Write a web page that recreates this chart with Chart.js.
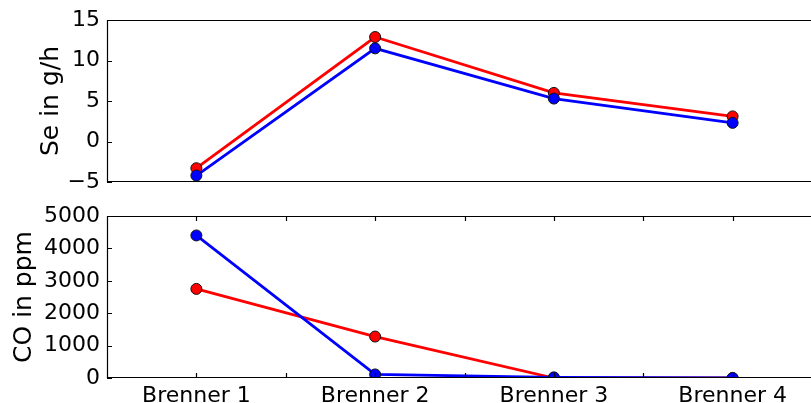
<!DOCTYPE html>
<html>
<head>
<meta charset="utf-8">
<script src="https://cdn.jsdelivr.net/npm/chart.js@4.4.1/dist/chart.umd.min.js"></script>
<style>
  html, body { margin: 0; padding: 0; background: #fff; overflow: hidden; }
  #top { position: absolute; left: 0; top: 0; }
  #bottom { position: absolute; left: 0; top: 200px; }
</style>
</head>
<body>
<canvas id="top" width="822" height="200"></canvas>
<canvas id="bottom" width="822" height="203"></canvas>
<script>
// data
var burners = ['Brenner 1', 'Brenner 2', 'Brenner 3', 'Brenner 4'];
var burnerPos = [1, 2, 3, 4];
var seBlue = [-4.2, 11.5, 5.3, 2.3];
var seRed = [-3.3, 12.9, 6.0, 3.1];
var coBlue = [4400, 110, 20, 0];
var coRed = [2750, 1280, 0, 0];

var tickFont = { family: 'DejaVu Sans', size: 22 };
var titleFont = { family: 'DejaVu Sans', size: 25 };

function pts(vals) {
    return vals.map(function (v, i) { return { x: burnerPos[i], y: v }; });
}

function series(vals, color) {
    return {
        data: pts(vals),
        borderColor: color,
        backgroundColor: color,
        borderWidth: 2.8,
        pointRadius: 5.5,
        pointHoverRadius: 5.5,
        pointBorderColor: '#111',
        pointBorderWidth: 1,
        tension: 0,
        clip: 0
    };
}

// matplotlib style frame with inward ticks
var frame = {
    id: 'frame',
    afterDraw: function (chart, args, opts) {
        var c = chart.ctx, a = chart.chartArea;
        c.save();
        c.strokeStyle = '#000';
        c.lineWidth = 1.2;
        c.beginPath();
        c.moveTo(a.right, a.top + 0.5); c.lineTo(a.left + 0.5, a.top + 0.5);
        c.lineTo(a.left + 0.5, a.bottom - 0.5); c.lineTo(a.right, a.bottom - 0.5);
        var ys = chart.scales.y;
        ys.ticks.forEach(function (t) {
            var p = Math.round(ys.getPixelForValue(t.value)) + 0.5;
            c.moveTo(a.left, p); c.lineTo(a.left + 5, p);
        });
        if (opts.xticks) {
            var xs = chart.scales.x;
            xs.ticks.forEach(function (t) {
                var p = Math.round(xs.getPixelForValue(t.value)) + 0.5;
                if (p < a.left + 2 || p > a.right - 2) return;
                c.moveTo(p, a.top); c.lineTo(p, a.top + 5);
                c.moveTo(p, a.bottom); c.lineTo(p, a.bottom - 5);
            });
        }
        c.stroke();
        c.restore();
    }
};

function noPad(s) {
    s.paddingTop = 0; s.paddingBottom = 0; s.paddingLeft = 0; s.paddingRight = 0;
}

function yAxis(min, max, step, title, titlePad) {
    return {
        min: min, max: max,
        grid: { display: false, drawTicks: false },
        border: { display: false },
        ticks: {
            stepSize: step, font: tickFont, color: '#000', padding: 7,
            callback: function (v) { return String(v).replace('-', '\u2212'); }
        },
        title: { display: true, text: title, font: titleFont, color: '#000', padding: { top: titlePad, bottom: 0 } },
        afterFit: function (s) { s.width = 107; noPad(s); }
    };
}

function xAxis(show) {
    return {
        type: 'linear',
        min: 0.5, max: 4.5,
        display: show,
        grid: { display: false, drawTicks: false },
        border: { display: false },
        ticks: {
            stepSize: 0.5, autoSkip: false, maxRotation: 0,
            font: tickFont, color: '#000', padding: 5,
            callback: function (v) {
                var i = burnerPos.indexOf(v);
                return i >= 0 ? burners[i] : '';
            }
        },
        afterFit: function (s) { s.height = show ? 25 : 0; noPad(s); }
    };
}

var common = {
    responsive: false,
    animation: false,
    events: [],
    plugins: { legend: { display: false }, tooltip: { enabled: false } }
};

new Chart(document.getElementById('top'), {
    type: 'line',
    data: { datasets: [series(seBlue, '#0000ff'), series(seRed, '#ff0000')] },
    options: Object.assign({}, common, {
        layout: { autoPadding: false, padding: { top: 20, bottom: 18, left: 0, right: 0 } },
        plugins: Object.assign({}, common.plugins, { frame: { xticks: false } }),
        scales: { x: xAxis(false), y: yAxis(-5, 15, 5, 'Se in g/h', 36) }
    }),
    plugins: [frame]
});

new Chart(document.getElementById('bottom'), {
    type: 'line',
    data: { datasets: [series(coBlue, '#0000ff'), series(coRed, '#ff0000')] },
    options: Object.assign({}, common, {
        layout: { autoPadding: false, padding: { top: 16, bottom: 0, left: 0, right: 0 } },
        plugins: Object.assign({}, common.plugins, { frame: { xticks: true } }),
        scales: { x: xAxis(true), y: yAxis(0, 5000, 1000, 'CO in ppm', 9) }
    }),
    plugins: [frame]
});
</script>
</body>
</html>
